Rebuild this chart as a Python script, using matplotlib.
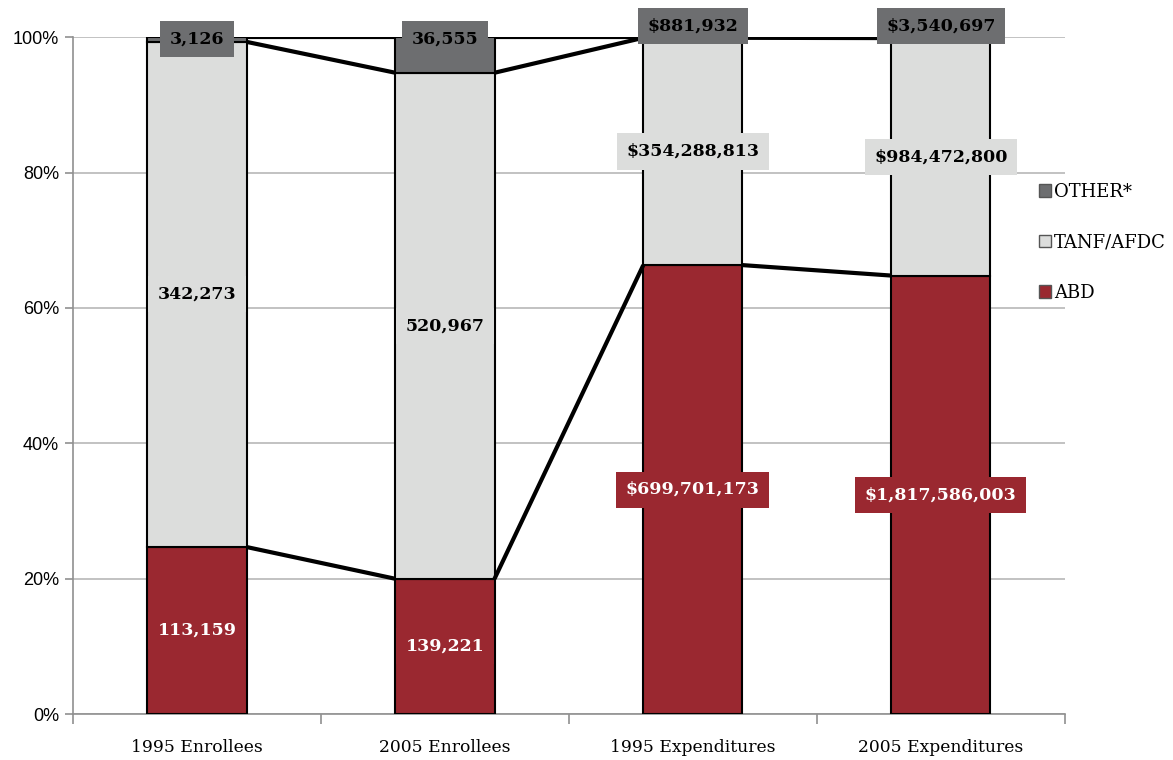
import matplotlib
matplotlib.use("Agg")
import matplotlib.pyplot as plt
import numpy as np
from matplotlib.patches import Patch

categories = ["1995 Enrollees", "2005 Enrollees", "1995 Expenditures", "2005 Expenditures"]
abd = [113159, 139221, 699701173, 1817586003]
tanf = [342273, 520967, 354288813, 984472800]
other = [3126, 36555, 881932, 3540697]
abd_labels = ["113,159", "139,221", "$699,701,173", "$1,817,586,003"]
tanf_labels = ["342,273", "520,967", "$354,288,813", "$984,472,800"]
other_labels = ["3,126", "36,555", "$881,932", "$3,540,697"]
yticks = [0, 20, 40, 60, 80, 100]

c_abd = "#9a2830"
c_tanf = "#dcdddc"
c_other = "#6d6e70"
serif = "DejaVu Serif"

abd_a = np.array(abd, float)
tanf_a = np.array(tanf, float)
other_a = np.array(other, float)
total = abd_a + tanf_a + other_a
p_abd = abd_a / total * 100
p_tanf = tanf_a / total * 100
p_other = other_a / total * 100

fig = plt.figure(figsize=(11.73, 7.6), dpi=100)
ax = fig.add_axes([0.0622, 0.0605, 0.9078 - 0.0622, 0.951 - 0.0605])

x = np.arange(len(categories))
w = 0.40
ax.bar(x, p_abd, w, color=c_abd, edgecolor="black", linewidth=1.5, zorder=3)
ax.bar(x, p_tanf, w, bottom=p_abd, color=c_tanf, edgecolor="black", linewidth=1.5, zorder=3)
ax.bar(x, p_other, w, bottom=p_abd + p_tanf, color=c_other, edgecolor="black", linewidth=1.5, zorder=3)

# series lines joining segment tops of neighbouring bars
for level in (p_abd, p_abd + p_tanf, p_abd + p_tanf + p_other):
    for i in range(len(x) - 1):
        ax.plot([x[i] + w / 2, x[i + 1] - w / 2], [level[i], level[i + 1]],
                color="black", linewidth=3, solid_capstyle="butt", zorder=4)

def box_label(xi, yi, s, bg, fg):
    ax.text(xi, yi, s, ha="center", va="center", fontsize=12.5, fontweight="bold",
            family=serif, color=fg, zorder=6, clip_on=False,
            bbox=dict(boxstyle="square,pad=0.55", facecolor=bg, edgecolor="none"))

# the small "other" segments get their labels pinned at the top of the bars
other_label_y = [99.7, 99.7, 101.6, 101.6]

for i in range(len(x)):
    box_label(x[i], p_abd[i] / 2, abd_labels[i], c_abd, "white")
    box_label(x[i], p_abd[i] + p_tanf[i] / 2, tanf_labels[i], c_tanf, "black")
    box_label(x[i], other_label_y[i], other_labels[i], c_other, "black")

ax.set_xlim(-0.5, len(x) - 0.5)
ax.set_ylim(0, 100)
ax.set_yticks(yticks)
ax.set_yticklabels([f"{t}%" for t in yticks], family="Liberation Sans", fontsize=13)
ax.yaxis.grid(True, color="#b8b8b8", linewidth=1.2, zorder=0)
ax.set_axisbelow(True)

ax.set_xticks(x)
ax.set_xticklabels(categories, family=serif, fontsize=12.3)
ax.set_xticks(np.arange(len(x) + 1) - 0.5, minor=True)
ax.tick_params(axis="x", which="major", length=0, pad=18)
ax.tick_params(axis="x", which="minor", length=7, color="#909090", width=1.2)
ax.tick_params(axis="y", length=6, color="#909090", width=1.2, pad=4)

for s in ("top", "right"):
    ax.spines[s].set_visible(False)
for s in ("left", "bottom"):
    ax.spines[s].set_color("#909090")
    ax.spines[s].set_linewidth(1.2)

handles = [Patch(facecolor=c_other, edgecolor="#555555"),
           Patch(facecolor=c_tanf, edgecolor="#555555"),
           Patch(facecolor=c_abd, edgecolor="#555555")]
leg = fig.legend(handles, ["OTHER*", "TANF/AFDC", "ABD"], loc="upper left",
                 bbox_to_anchor=(1037 / 1173, 1 - 181 / 760), frameon=True,
                 facecolor="white", edgecolor="none", framealpha=1,
                 prop={"family": serif, "size": 13}, handlelength=0.7, handleheight=0.7,
                 handletextpad=0.15, labelspacing=1.8, borderpad=0.1, borderaxespad=0)

fig.savefig("out.png", dpi=100, facecolor="white")
